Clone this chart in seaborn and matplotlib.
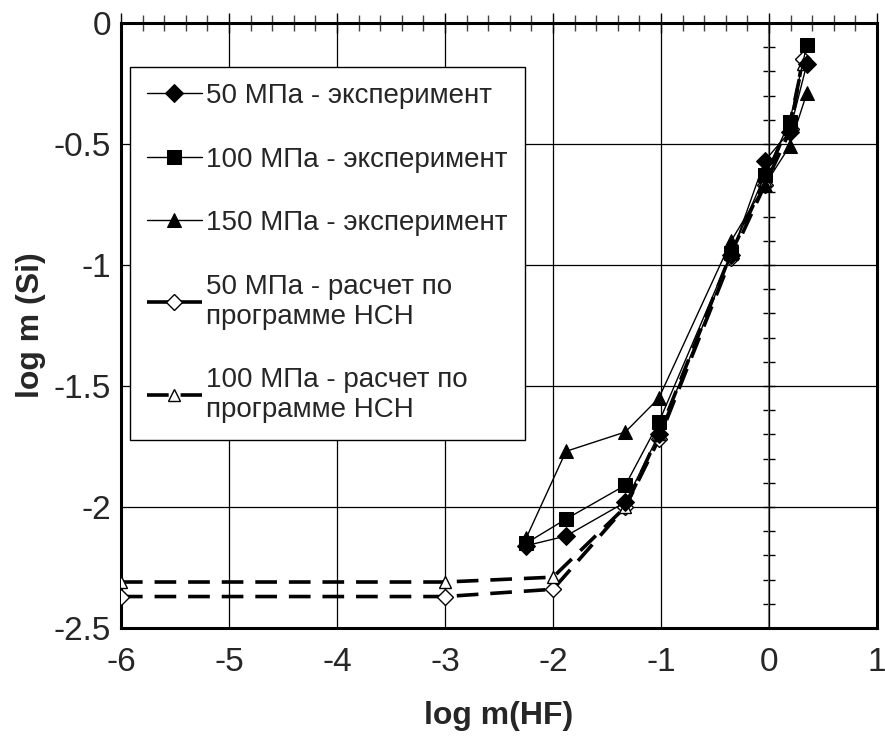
import pandas as pd
import matplotlib
matplotlib.use('Agg')
import matplotlib.pyplot as plt
import seaborn as sns
from matplotlib.ticker import MultipleLocator

sns.set_style('white')
plt.rcParams['font.family'] = ['Liberation Sans', 'DejaVu Sans']

# экспериментальные точки
x_exp = [-2.25, -1.88, -1.33, -1.02, -0.35, -0.04, 0.19, 0.35]
y_50_exp = [-2.16, -2.12, -1.98, -1.70, -0.96, -0.57, -0.45, -0.17]
y_100_exp = [-2.15, -2.05, -1.91, -1.65, -0.95, -0.63, -0.41, -0.09]
y_150_exp = [-2.13, -1.77, -1.69, -1.55, -0.90, -0.67, -0.51, -0.29]

# расчет по программе НСН
x_calc = [-6, -3, -2, -1.33, -1.02, -0.35, -0.04, 0.2, 0.31]
y_50_calc = [-2.37, -2.37, -2.34, -2.0, -1.72, -0.97, -0.67, -0.44, -0.15]
y_100_calc = [-2.31, -2.31, -2.29, -2.0, -1.70, -0.95, -0.65, -0.40, -0.17]

labels = ['50 МПа - эксперимент', '100 МПа - эксперимент', '150 МПа - эксперимент',
          '50 МПа - расчет по\nпрограмме НСН', '100 МПа - расчет по\nпрограмме НСН']

fig = plt.figure(figsize=(8.85, 7.37), dpi=100)
ax = fig.add_axes([0.1367, 0.1479, 0.8543, 0.8209])

# ось Y в точке x = 0 с мелкими делениями
ax2 = ax.twinx()
ax2.set_ylim(-2.5, 0)
for s in ['top', 'bottom', 'right']:
    ax2.spines[s].set_visible(False)
ax2.spines['left'].set_position(('data', 0))
ax2.spines['left'].set_color('#808080')
ax2.spines['left'].set_linewidth(1.5)
ax2.yaxis.set_ticks_position('left')
ax2.yaxis.set_major_locator(MultipleLocator(0.1))
ax2.tick_params(axis='y', direction='inout', length=9, width=1, color='black',
                labelleft=False, labelright=False, left=True, right=False)
ax2.set_zorder(ax.get_zorder() - 0.5)

exp_series = [(y_50_exp, 'D', 9), (y_100_exp, 's', 10), (y_150_exp, '^', 10)]
for (yv, m, ms), lab in zip(exp_series, labels[:3]):
    sns.lineplot(x=x_exp, y=yv, ax=ax, color='black', linewidth=1, marker=m,
                 markersize=ms, markeredgecolor='black', markerfacecolor='black',
                 sort=False, label=lab, zorder=4)

calc_series = [(y_50_calc, 'D', 8), (y_100_calc, '^', 9)]
for (yv, m, ms), lab in zip(calc_series, labels[3:]):
    sns.lineplot(x=x_calc, y=yv, ax=ax, color='black', linewidth=2.6, marker=m,
                 markersize=ms, markeredgecolor='black', markerfacecolor='white',
                 markeredgewidth=1, linestyle=(0, (6.0, 3.3)), sort=False,
                 label=lab, zorder=3)

ax.set_xlim(-6, 1)
ax.set_ylim(-2.5, 0)
ax.xaxis.set_major_locator(MultipleLocator(1))
ax.xaxis.set_minor_locator(MultipleLocator(0.2))
ax.yaxis.set_major_locator(MultipleLocator(0.5))
ax.set_xticklabels([f'{int(v)}' for v in ax.get_xticks()])
ax.set_yticklabels([f'{v:g}' for v in ax.get_yticks()])
ax.grid(True, which='major', color='black', linewidth=0.9)
ax.set_facecolor('white')
ax.patch.set_alpha(0)
ax.set_zorder(2)

ax.tick_params(axis='both', which='major', labelsize=24, length=0, pad=7)
ax.tick_params(axis='x', which='major', top=True, bottom=False, direction='inout',
               length=14, width=1, color='black')
ax.tick_params(axis='x', which='minor', top=True, bottom=False, direction='inout',
               length=12, width=1, color='#444444')

for s in ax.spines.values():
    s.set_color('black')
    s.set_linewidth(2.2)

ax.set_xlabel('log m(HF)', fontsize=23, fontweight='bold', labelpad=16)
ax.set_ylabel('log m (Si)', fontsize=23, fontweight='bold', labelpad=6)

leg = ax.legend(loc='upper left', bbox_to_anchor=(0.012, 0.928), borderaxespad=0,
                fontsize=20, frameon=True, fancybox=False, edgecolor='black',
                framealpha=1, handlelength=2.0, handletextpad=0.15,
                labelspacing=1.35, borderpad=0.6)
leg.get_frame().set_linewidth(1)

fig.savefig('out.png', dpi=100)
